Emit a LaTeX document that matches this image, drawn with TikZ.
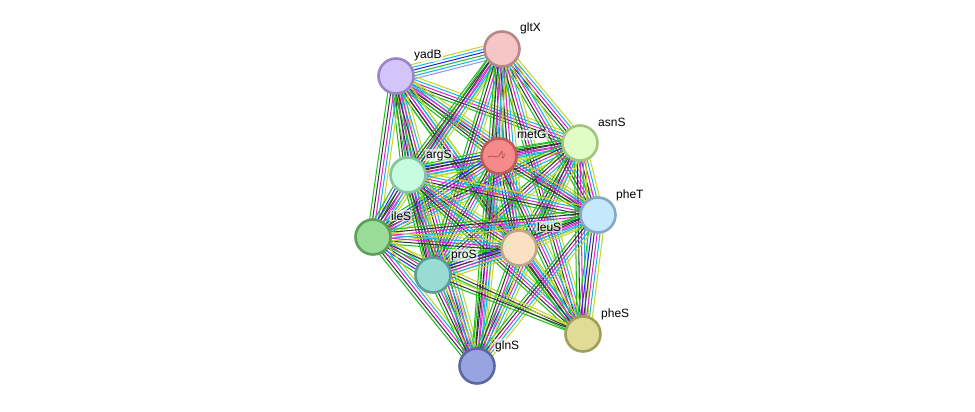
\documentclass[tikz,border=0pt]{standalone}
\usepackage{fontspec}
\setmainfont{Liberation Sans}
\usetikzlibrary{calc}
\definecolor{tm}{RGB}{196,214,40}
\definecolor{grn}{RGB}{34,190,34}
\definecolor{blk}{RGB}{55,55,55}
\definecolor{mag}{RGB}{214,40,214}
\definecolor{cyn}{RGB}{30,182,222}
\definecolor{blu}{RGB}{40,40,245}
\definecolor{hom}{RGB}{150,150,250}
\definecolor{glyph}{RGB}{150,60,60}
\newcommand\bundle[3]{%
  \foreach \ecol [count=\ei] in {#3} {\xdef\bundlen{\ei}}%
  \foreach \ecol [count=\ei] in {#3} {%
    \pgfmathsetmacro\eoff{(\ei-(\bundlen+1)/2)*2.9}%
    \draw[edge,\ecol] ($(#1.center)!\eoff pt!90:(#2.center)$) -- ($(#2.center)!\eoff pt!-90:(#1.center)$);
  }}
\tikzset{
  edge/.style={line width=1.05pt},
  prot/.style={circle, minimum size=35pt, inner sep=0pt, line width=2.6pt},
  lbl/.style={anchor=base west, fill=white, fill opacity=0.6, text opacity=1, inner sep=1pt, font=\fontsize{12}{14}\selectfont}
}
\begin{document}
\begin{tikzpicture}[x=1pt,y=-1pt]
\useasboundingbox (0,0) rectangle (975,412);
% node coordinates
\coordinate (gltX) at (502,49);
\coordinate (yadB) at (396,76);
\coordinate (asnS) at (580,143);
\coordinate (metG) at (499,156);
\coordinate (argS) at (408,175);
\coordinate (pheT) at (598,215);
\coordinate (ileS) at (373,237);
\coordinate (leuS) at (519,248);
\coordinate (proS) at (433,275);
\coordinate (pheS) at (583,334);
\coordinate (glnS) at (477,366);
% edges
\bundle{yadB}{gltX}{hom,cyn,grn,blu,cyn,tm}
\bundle{yadB}{asnS}{grn,blk,mag,cyn,tm}
\bundle{yadB}{metG}{grn,blk,mag,cyn,tm}
\bundle{yadB}{argS}{grn,blk,mag,cyn,tm}
\bundle{yadB}{pheT}{grn,blk,mag,cyn,tm}
\bundle{yadB}{ileS}{grn,blk,mag,cyn,tm}
\bundle{yadB}{leuS}{grn,blk,mag,cyn,tm}
\bundle{yadB}{proS}{grn,blk,mag,cyn,tm}
\bundle{yadB}{pheS}{grn,blk,mag,cyn,tm}
\bundle{yadB}{glnS}{grn,blk,mag,cyn,tm}
\bundle{gltX}{asnS}{grn,blk,mag,cyn,tm}
\bundle{gltX}{metG}{grn,blk,mag,cyn,tm}
\bundle{gltX}{argS}{grn,blk,mag,cyn,tm}
\bundle{gltX}{pheT}{grn,blk,mag,cyn,tm}
\bundle{gltX}{ileS}{grn,blk,mag,cyn,tm}
\bundle{gltX}{leuS}{grn,blk,mag,cyn,tm}
\bundle{gltX}{proS}{grn,blk,mag,cyn,tm}
\bundle{gltX}{pheS}{grn,blk,mag,cyn,tm}
\bundle{gltX}{glnS}{grn,blk,mag,cyn,tm}
\bundle{asnS}{metG}{grn,blk,mag,cyn,tm}
\bundle{asnS}{argS}{grn,blk,mag,cyn,tm}
\bundle{asnS}{pheT}{grn,blk,mag,cyn,tm}
\bundle{asnS}{ileS}{grn,blk,mag,cyn,tm}
\bundle{asnS}{leuS}{grn,blk,mag,cyn,tm}
\bundle{asnS}{proS}{grn,blk,mag,cyn,tm}
\bundle{asnS}{pheS}{grn,blk,mag,cyn,tm}
\bundle{asnS}{glnS}{grn,blk,mag,cyn,tm}
\bundle{metG}{argS}{grn,blu,blk,mag,cyn,tm}
\bundle{metG}{pheT}{grn,blk,mag,cyn,tm}
\bundle{metG}{ileS}{grn,blu,blk,mag,cyn,tm}
\bundle{metG}{leuS}{grn,blu,blk,mag,cyn,tm}
\bundle{metG}{proS}{grn,blk,mag,cyn,tm}
\bundle{metG}{pheS}{grn,blk,mag,cyn,tm}
\bundle{metG}{glnS}{grn,blk,mag,cyn,tm}
\bundle{argS}{pheT}{grn,blk,mag,cyn,tm}
\bundle{argS}{ileS}{grn,blu,blk,mag,cyn,tm}
\bundle{argS}{leuS}{grn,blk,mag,cyn,tm}
\bundle{argS}{proS}{grn,blk,mag,cyn,tm}
\bundle{argS}{pheS}{grn,blk,mag,cyn,tm}
\bundle{argS}{glnS}{grn,blk,mag,cyn,tm}
\bundle{pheT}{ileS}{grn,blk,mag,cyn,tm}
\bundle{pheT}{leuS}{grn,blk,mag,cyn,tm}
\bundle{pheT}{proS}{grn,blk,mag,cyn,tm}
\bundle{pheT}{pheS}{grn,blu,blk,mag,cyn,tm}
\bundle{pheT}{glnS}{grn,blk,mag,cyn,tm}
\bundle{ileS}{leuS}{grn,blk,mag,cyn,tm}
\bundle{ileS}{proS}{grn,blu,blk,mag,cyn,tm}
\bundle{ileS}{pheS}{grn,blk,tm}
\bundle{ileS}{glnS}{grn,blk,mag,cyn,tm}
\bundle{leuS}{proS}{grn,blu,blk,mag,cyn,tm}
\bundle{leuS}{pheS}{grn,blk,mag,cyn,tm}
\bundle{leuS}{glnS}{grn,blk,mag,cyn,tm}
\bundle{proS}{pheS}{grn,blk,tm}
\bundle{proS}{glnS}{grn,blk,mag,cyn,tm}
% nodes
\node[prot, fill={rgb,255:red,246;green,198;blue,198}, draw={rgb,255:red,184;green,136;blue,136}] (n-gltX) at (gltX) {};
\node[prot, fill={rgb,255:red,212;green,196;blue,252}, draw={rgb,255:red,152;green,134;blue,198}] (n-yadB) at (yadB) {};
\node[prot, fill={rgb,255:red,226;green,252;blue,198}, draw={rgb,255:red,164;green,196;blue,134}] (n-asnS) at (asnS) {};
\node[prot, fill={rgb,255:red,244;green,138;blue,138}, draw={rgb,255:red,190;green,90;blue,90}] (n-metG) at (metG) {};
\node[prot, fill={rgb,255:red,198;green,252;blue,224}, draw={rgb,255:red,132;green,196;blue,160}] (n-argS) at (argS) {};
\node[prot, fill={rgb,255:red,198;green,232;blue,252}, draw={rgb,255:red,132;green,168;blue,198}] (n-pheT) at (pheT) {};
\node[prot, fill={rgb,255:red,152;green,220;blue,152}, draw={rgb,255:red,92;green,160;blue,92}] (n-ileS) at (ileS) {};
\node[prot, fill={rgb,255:red,252;green,224;blue,196}, draw={rgb,255:red,190;green,166;blue,136}] (n-leuS) at (leuS) {};
\node[prot, fill={rgb,255:red,152;green,220;blue,212}, draw={rgb,255:red,92;green,156;blue,152}] (n-proS) at (proS) {};
\node[prot, fill={rgb,255:red,224;green,220;blue,152}, draw={rgb,255:red,160;green,160;blue,90}] (n-pheS) at (pheS) {};
\node[prot, fill={rgb,255:red,152;green,164;blue,224}, draw={rgb,255:red,92;green,104;blue,160}] (n-glnS) at (glnS) {};
% small structure glyph in metG
\draw[line width=0.5pt, glyph] ($(metG)+(-11,1)$) .. controls ($(metG)+(-6,-2)$) and ($(metG)+(-3,3)$) .. ($(metG)+(0,0)$) .. controls ($(metG)+(2,-4)$) and ($(metG)+(4,-7)$) .. ($(metG)+(3,-2)$) .. controls ($(metG)+(2,3)$) and ($(metG)+(6,4)$) .. ($(metG)+(5,-3)$);
% labels
\node[lbl] at ($(gltX)+(17,-17)$) {gltX};
\node[lbl] at ($(yadB)+(17,-17)$) {yadB};
\node[lbl] at ($(asnS)+(17,-17)$) {asnS};
\node[lbl] at ($(metG)+(17,-17)$) {metG};
\node[lbl] at ($(argS)+(17,-17)$) {argS};
\node[lbl] at ($(pheT)+(17,-17)$) {pheT};
\node[lbl] at ($(ileS)+(17,-17)$) {ileS};
\node[lbl] at ($(leuS)+(17,-17)$) {leuS};
\node[lbl] at ($(proS)+(17,-17)$) {proS};
\node[lbl] at ($(pheS)+(17,-17)$) {pheS};
\node[lbl] at ($(glnS)+(17,-17)$) {glnS};
\end{tikzpicture}
\end{document}
